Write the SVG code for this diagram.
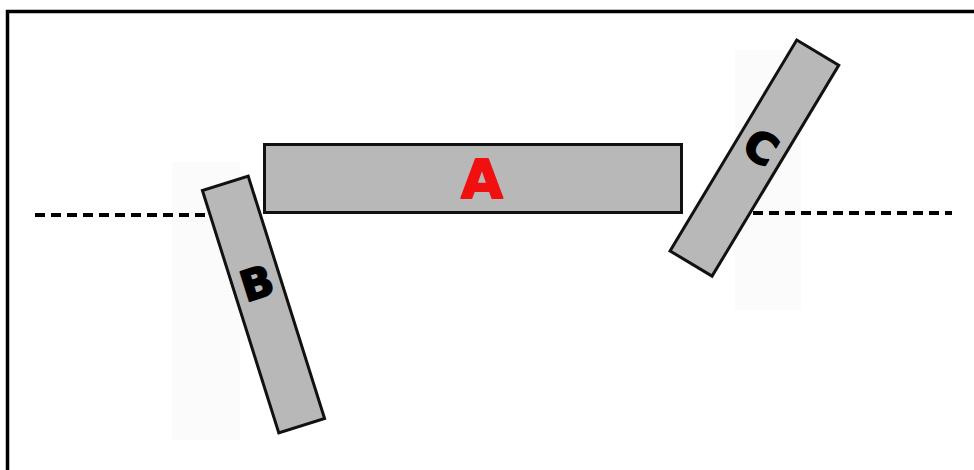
<svg xmlns="http://www.w3.org/2000/svg" width="974" height="470" viewBox="0 0 974 470">
<style>
.bar{fill:#b8b8b8;stroke:#111;stroke-width:3}
.dash{stroke:#000;stroke-width:4;stroke-dasharray:10 6;fill:none}
.lbl{font-family:"DejaVu Sans","Liberation Sans",sans-serif;font-weight:bold;text-anchor:middle;dominant-baseline:central;stroke-width:2;stroke-linejoin:round}
</style>
<rect x="0" y="0" width="974" height="470" fill="#fff"/>
<rect x="172" y="162" width="68" height="278" fill="#fbfbfb"/>
<rect x="735" y="50" width="66" height="260" fill="#fbfbfb"/>
<path d="M7.5 470 V11.5 H974" fill="none" stroke="#000" stroke-width="3.5"/>
<g id="connectors">
<line class="dash" x1="35" y1="215" x2="210" y2="215"/>
<line class="dash" x1="753" y1="213" x2="952" y2="213"/>
</g>
<g id="A">
<rect class="bar" x="264.5" y="144.5" width="417" height="68"/>
<text class="lbl" x="482" y="179" font-size="54" fill="#f01010" stroke="#f01010">A</text>
</g>
<g id="B" transform="translate(263.5,304.5) rotate(-17.5)">
<rect class="bar" x="-24" y="-127" width="48" height="254"/>
<text class="lbl" x="0" y="-22" font-size="42" fill="#000" stroke="#000">B</text>
</g>
<g id="C" transform="translate(754.4,158.1) rotate(31)">
<rect class="bar" x="-24.5" y="-123" width="49" height="246"/>
<text class="lbl" x="0" y="-12" font-size="42" fill="#000" stroke="#000">C</text>
</g>
</svg>
